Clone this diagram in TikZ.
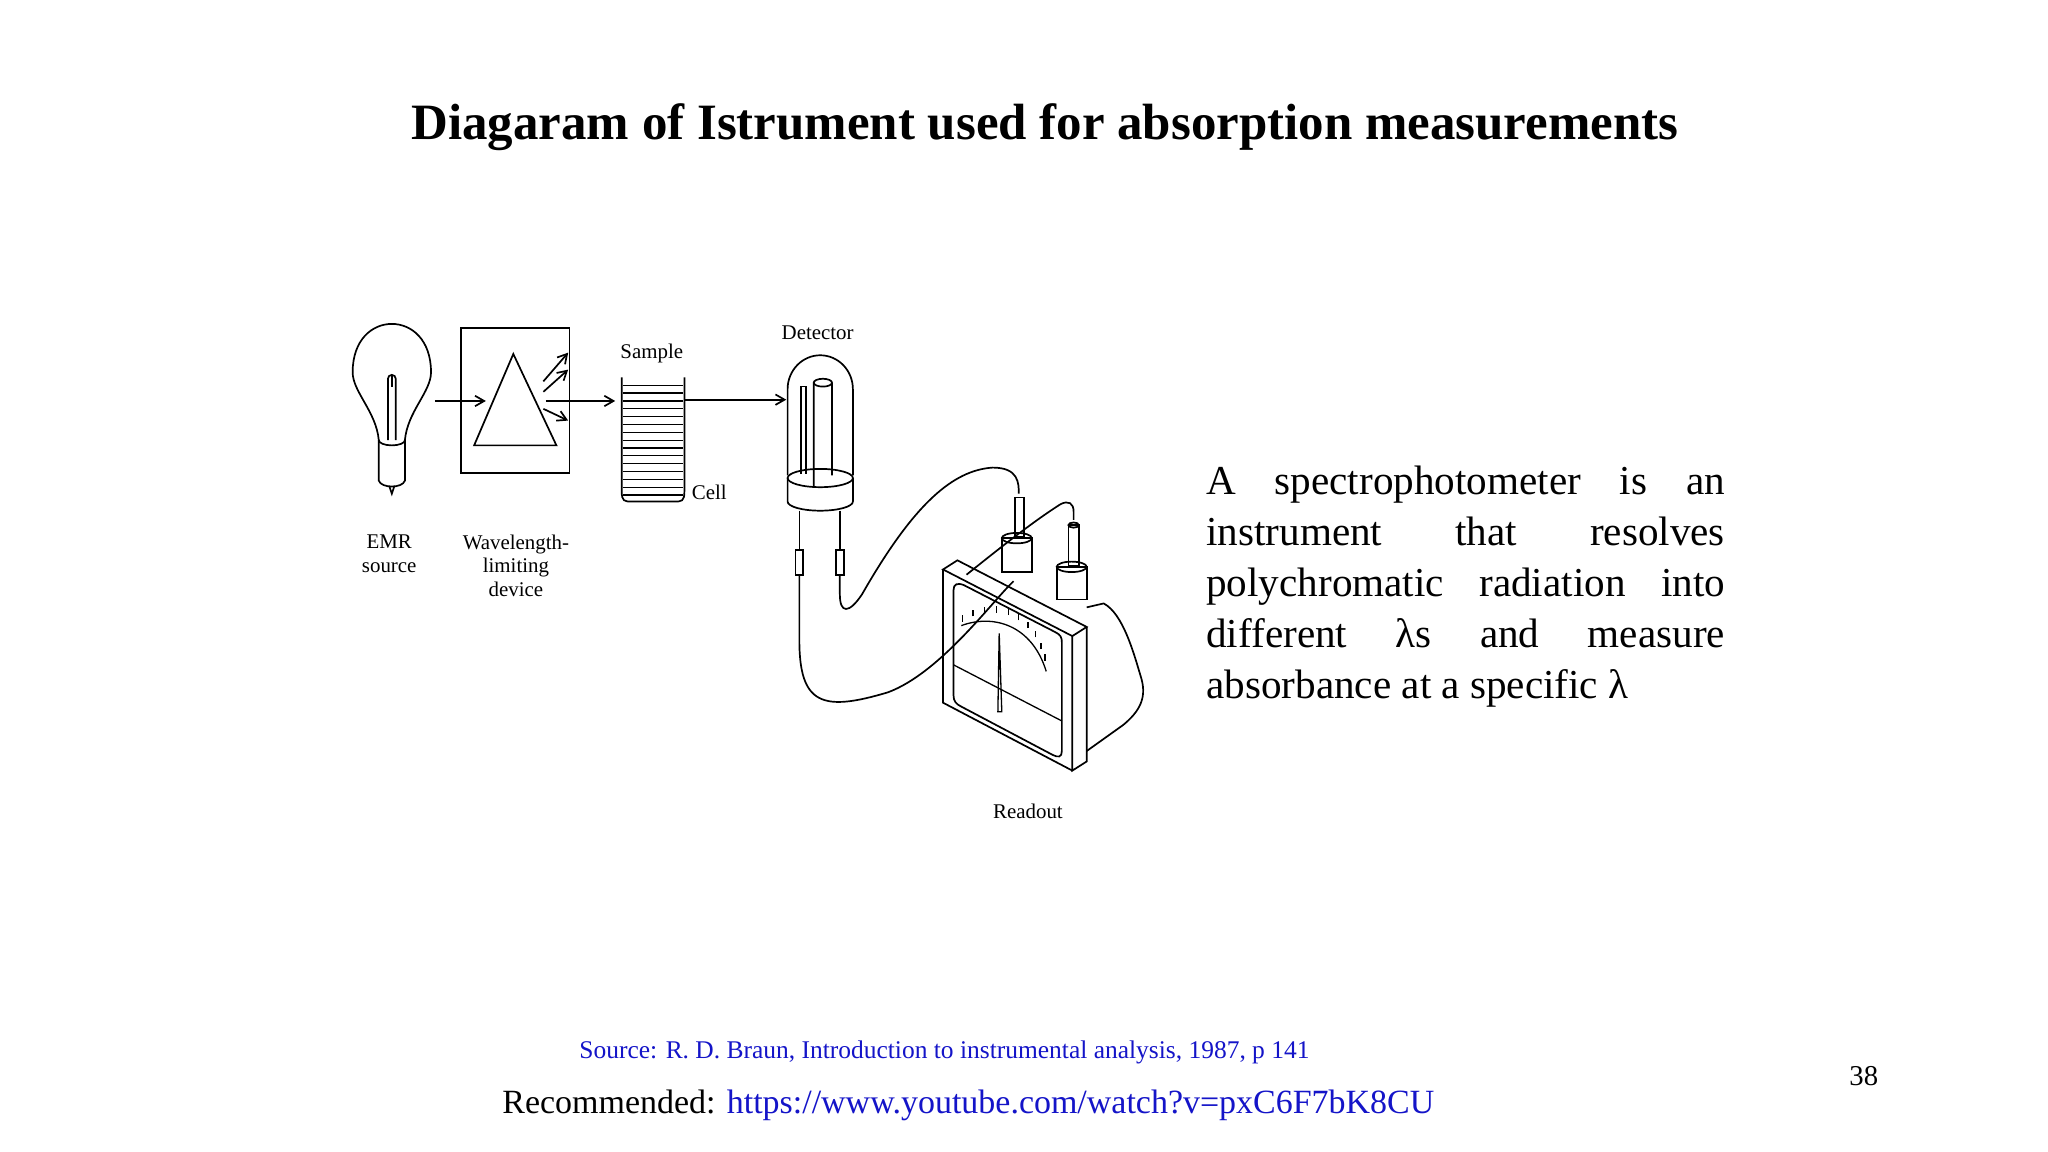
\documentclass[tikz,border=0pt]{standalone}
\usepackage{fontspec}
\setmainfont{Liberation Serif}
\usetikzlibrary{arrows.meta}
\definecolor{linkblue}{RGB}{20,20,200}
\begin{document}
\begin{tikzpicture}[x=1pt,y=-1pt,line width=1.3pt,
  lbl/.style={font=\fontsize{16}{18}\selectfont,align=center,inner sep=0},
  ray/.style={-{Straight Barb[length=7pt,width=8pt]}}]
\useasboundingbox (0,0) rectangle (1568,882);
\node[font=\bfseries\fontsize{39}{44}\selectfont] (title) at (800,97) {Diagaram of Istrument used for absorption measurements};
% bulb
\draw (290,337) .. controls (288,315) and (270,300) .. (270,285) .. controls (270,260) and (285,248) .. (300,248) .. controls (315,248) and (330,260) .. (330,285) .. controls (330,300) and (312,315) .. (310,337);
\draw (290,337) arc (180:0:10 and 4);
\draw (290,337) -- (290,368) .. controls (292,374) and (308,374) .. (310,368) -- (310,337);
\draw (298,372) -- (300,378) -- (302,372);
\draw (297,337) -- (297,290) arc (180:360:3) -- (303,337);
\draw (300,287) -- (300,296);
\node[lbl] (emr) at (298,424) {EMR\\source};
\coordinate (bulbR) at (333,307);
% box
\draw (353,251) rectangle (436,362);
\draw (393,271) -- (426,341) -- (363,341) -- cycle;
\coordinate (boxIn) at (372,307);
\draw[ray] (bulbR) -- (boxIn);
\draw[ray] (416,292) -- (435,270);
\draw[ray] (416,300) -- (435,283);
\draw[ray] (416,313) -- (435,322);
\node[lbl] (wl) at (395,433) {Wavelength-\\limiting\\device};
% cell
\coordinate (cellIn) at (471,307);
\draw[ray] (418,307) -- (cellIn);
\draw (476,289) -- (476,376) .. controls (476,384) and (478,384) .. (484,384) -- (516,384) .. controls (522,384) and (524,384) .. (524,376) -- (524,289);
\foreach \y in {295,301,...,379} \draw[line width=1pt] (477,\y) -- (523,\y);
\node[lbl] (sample) at (499,271) {Sample};
\node[lbl] (cell) at (543,377) {Cell};
% detector
\coordinate (detIn) at (602,306);
\draw[ray] (524,306) -- (detIn);
\draw (603,364) -- (603,298) arc (180:360:25 and 26) -- (653,364);
\draw (628,366) ellipse (25 and 7);
\draw (603,366) -- (603,384) arc (180:0:25 and 7) -- (653,366);
\draw (613,363) -- (613,296) -- (617,296) -- (617,363);
\draw (623,372) -- (623,293) arc (180:360:7 and 3) -- (637,364);
\draw (623,293) arc (180:0:7 and 3);
\node[lbl] (det) at (626,255) {Detector};
\draw (612,391) -- (612,421); \draw (643,391) -- (643,421);
\draw (609,421) rectangle (615,440); \draw (640,421) rectangle (646,440);
% wires
\draw (612,440) -- (612,490) .. controls (612,540) and (630,545) .. (680,530) .. controls (720,515) and (760,460) .. (776,445);
\draw (643,440) -- (643,455) .. controls (643,470) and (650,470) .. (660,455) .. controls (700,385) and (730,360) .. (760,358) .. controls (780,358) and (780,370) .. (780,378);
\draw (822,398) -- (822,392) .. controls (822,385) and (818,383) .. (812,386) .. controls (790,400) and (765,420) .. (740,440);
% readout front frame
\draw (722,436) -- (733,429) -- (832,480) -- (821,487) -- cycle;
\draw (821,487) -- (821,590) -- (832,583) -- (832,480);
\draw (722,436) -- (722,538) -- (821,590);
\draw (730,452) .. controls (730,447) and (733,446) .. (738,448) -- (808,484) .. controls (812,486) and (813,488) .. (813,492) -- (813,575) .. controls (813,580) and (810,580) .. (806,578) -- (736,541) .. controls (732,539) and (730,537) .. (730,532) -- cycle;
\draw[line width=1pt] (730,509) -- (813,552);
\draw[line width=1pt] (736,479) .. controls (760,470) and (790,478) .. (801,514);
\foreach \a/\b in {737/476,745/472,754/470,763/469,772/471,780/475,787/481,793/488,797/497,800/506}
  \draw[line width=1pt] (\a,\b) -- ++(0,-5);
\draw[line width=1pt] (765,485) -- (764,545) -- (767,545) -- cycle;
% back body
\draw (832,465) -- (845,462) .. controls (860,470) and (868,500) .. (874,520) .. controls (878,535) and (872,545) .. (860,555) -- (832,575);
% posts
\draw (767,412) rectangle (790,438);
\draw (778.5,412) ellipse (11.5 and 4);
\draw (777,381) rectangle (784,411);
\draw (809,434) rectangle (832,459);
\draw (820.5,434) ellipse (11.5 and 4);
\draw (818,402) rectangle (826,433);
\draw (822,402) ellipse (4 and 2);
\node[lbl] (readout) at (787,621) {Readout};
% text
\node[anchor=north west,inner sep=0,font=\fontsize{31.5}{39}\selectfont] (desc) at (923,356)
 {\parbox[t]{397pt}{\hyphenpenalty=10000\exhyphenpenalty=10000 A spectrophotometer is an instrument that resolves polychromatic radiation into different λs and measure absorbance at a specific λ\par}};
\node[anchor=west,inner sep=0,font=\fontsize{19.5}{21}\selectfont,text=linkblue] (src) at (443,806) {Source: R. D. Braun, Introduction to instrumental analysis, 1987, p 141};
\node[anchor=west,inner sep=0,font=\fontsize{26}{28}\selectfont] (rec) at (384,846) {Recommended: \textcolor{linkblue}{https://www.youtube.com/watch?v=pxC6F7bK8CU}};
\node[font=\fontsize{22}{24}\selectfont] (pg) at (1427,824) {38};
\end{tikzpicture}
\end{document}
